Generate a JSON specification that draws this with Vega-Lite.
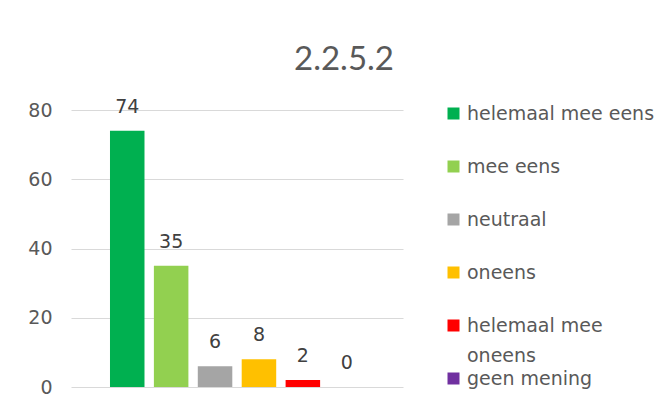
{
  "$schema": "https://vega.github.io/schema/vega-lite/v6.json",
  "autosize": "none",
  "width": 332,
  "height": 277,
  "padding": {"left": 71, "top": 110, "right": 268, "bottom": 21},
  "background": "white",
  "config": {"view": {"stroke": null}},
  "title": {
    "text": "2.2.5.2",
    "anchor": "middle",
    "frame": "group",
    "dx": 107,
    "offset": 21,
    "font": "Lato",
    "fontSize": 33,
    "fontWeight": "normal",
    "color": "#595959"
  },
  "data": {
    "values": [
      {"categorie": "helemaal mee eens", "aantal": 74, "volgorde": 1},
      {"categorie": "mee eens", "aantal": 35, "volgorde": 2},
      {"categorie": "neutraal", "aantal": 6, "volgorde": 3},
      {"categorie": "oneens", "aantal": 8, "volgorde": 4},
      {"categorie": "helemaal mee oneens", "aantal": 2, "volgorde": 5},
      {"categorie": "geen mening", "aantal": 0, "volgorde": 6}
    ]
  },
  "encoding": {
    "x": {
      "field": "categorie",
      "type": "nominal",
      "sort": {"field": "volgorde"},
      "axis": null,
      "scale": {"paddingInner": 0.214, "paddingOuter": 0.888}
    },
    "y": {
      "field": "aantal",
      "type": "quantitative",
      "scale": {"domain": [0, 80], "nice": false},
      "axis": {
        "title": null,
        "values": [0, 20, 40, 60, 80],
        "domain": false,
        "ticks": false,
        "grid": true,
        "gridColor": "#d9d9d9",
        "gridWidth": 1,
        "labelPadding": 19,
        "labelFont": "DejaVu Sans",
        "labelFontSize": 19,
        "labelColor": "#595959"
      }
    }
  },
  "layer": [
    {
      "mark": {"type": "bar"},
      "encoding": {
        "color": {
          "field": "categorie",
          "type": "nominal",
          "scale": {
            "domain": ["helemaal mee eens", "mee eens", "neutraal", "oneens", "helemaal mee oneens", "geen mening"],
            "range": ["#00b050", "#92d050", "#a5a5a5", "#ffc000", "#ff0000", "#7030a0"]
          },
          "legend": {
            "title": null,
            "orient": "none",
            "legendX": 373,
            "legendY": -6,
            "symbolType": "square",
            "symbolSize": 144,
            "symbolStrokeWidth": 0,
            "symbolOpacity": 1,
            "labelFont": "DejaVu Sans",
            "labelFontSize": 19,
            "labelColor": "#595959",
            "labelOffset": 4,
            "labelLimit": 300,
            "rowPadding": 3,
            "labelExpr": "datum.label == 'helemaal mee oneens' ? ['helemaal mee', 'oneens'] : [datum.label, '']",
            "encode": {"labels": {"update": {"lineHeight": {"value": 30}}}}
          }
        }
      }
    },
    {
      "mark": {"type": "text", "baseline": "middle", "dy": -24, "font": "DejaVu Sans", "fontSize": 19, "color": "#404040"},
      "encoding": {"text": {"field": "aantal", "type": "quantitative"}}
    }
  ]
}
